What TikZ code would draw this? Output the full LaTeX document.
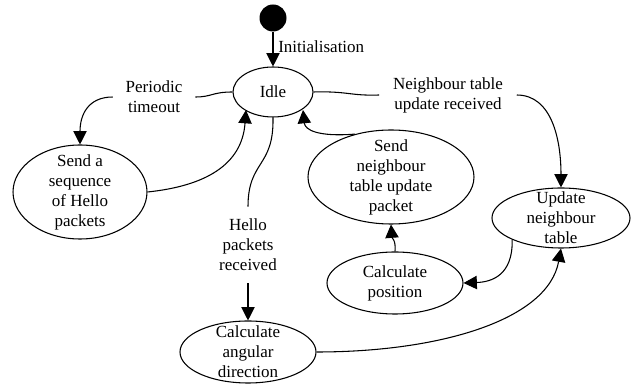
\documentclass[tikz,border=0pt]{standalone}
\usepackage{fontspec}
\setmainfont{Liberation Serif}
\usetikzlibrary{shapes.geometric,arrows.meta}
\begin{document}
\begin{tikzpicture}[x=0.75pt,y=-0.75pt,
  every node/.style={font=\rmfamily\fontsize{12.75}{15}\selectfont},
  st/.style={draw,ellipse,inner sep=0pt,line width=0.8pt},
  txt/.style={align=center,inner sep=0pt},
  edge/.style={line width=0.8pt,-{Triangle[length=10pt,width=10pt]}},
  seg/.style={line width=0.8pt}]
\useasboundingbox (0,0) rectangle (644,391);
% states
\node[circle,fill=black,inner sep=0pt,minimum size={27*0.75pt}] (start) at (273,18) {};
\node[st,minimum width={80*0.75pt},minimum height={50*0.75pt}] (idle) at (273,92) {};
\node[txt] (idle-t) at (idle) {Idle};
\node[st,minimum width={134*0.75pt},minimum height={94*0.75pt}] (sendhello) at (80,192) {};
\node[txt] (sendhello-t) at (sendhello) {Send a\\sequence\\of Hello\\packets};
\node[st,minimum width={166*0.75pt},minimum height={94*0.75pt}] (sendn) at (391,177) {};
\node[txt] (sendn-t) at (sendn) {Send\\neighbour\\table update\\packet};
\node[st,minimum width={138*0.75pt},minimum height={60*0.75pt}] (update) at (561,218) {};
\node[txt] (update-t) at (update) {Update\\neighbour\\table};
\node[st,minimum width={136*0.75pt},minimum height={62*0.75pt}] (calcpos) at (395,283) {};
\node[txt] (calcpos-t) at (calcpos) {Calculate\\position};
\node[st,minimum width={136*0.75pt},minimum height={62*0.75pt}] (calcang) at (248,352) {};
\node[txt] (calcang-t) at (calcang) {Calculate\\angular\\direction};
% edge labels
\node[txt,minimum width={82*0.75pt}] (per) at (154,97) {Periodic\\timeout};
\node[txt,minimum width={137*0.75pt}] (nbr) at (448,95) {Neighbour table\\update received};
\node[txt,minimum height={76*0.75pt}] (hello) at (248,245) {Hello\\packets\\received};
\node[txt,anchor=west] (init) at (278,47) {Initialisation};
% edges
\draw[edge] (start.south) -- (idle.north);
\draw[seg] (idle.west) .. controls (212,92) and (212,97) .. (per.east);
\draw[edge] (per.west) .. controls (88,97) and (80,115) .. (sendhello.north);
\draw[edge] (sendhello.east) .. controls (205,186) and (242,165) .. (246,110);
\draw[seg] (idle.south) .. controls (274,168) and (248,160) .. (hello.north);
\draw[edge] (hello.south) -- (calcang.north);
\draw[seg] (idle.east) .. controls (348,91) and (350,96) .. (nbr.west);
\draw[edge] (nbr.east) .. controls (552,95) and (561,140) .. (update.north);
\draw[edge] (sendn.130) .. controls (318,137) and (305,130) .. (303,110);
\draw[edge] (calcpos.north) .. controls (396,240) and (392,238) .. (sendn.south);
\draw[edge] (update.204) .. controls (513,275) and (492,282) .. (calcpos.east);
\draw[edge] (calcang.east) .. controls (440,352) and (548,320) .. (update.south);
\end{tikzpicture}
\end{document}
